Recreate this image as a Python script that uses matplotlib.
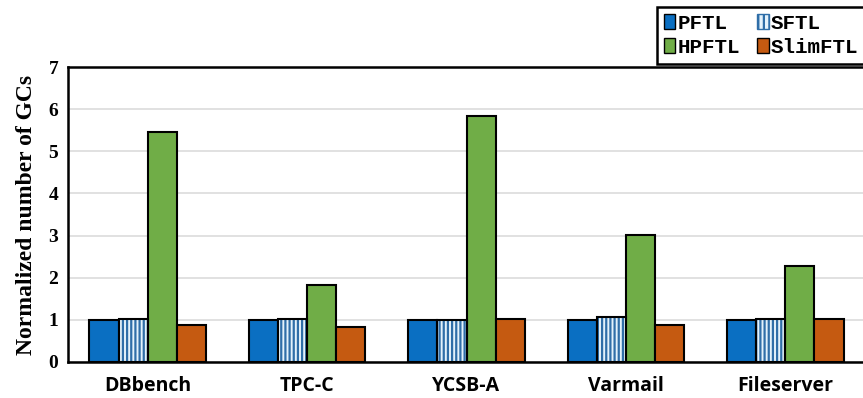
import numpy as np
import matplotlib
matplotlib.use("Agg")
import matplotlib.pyplot as plt
from matplotlib.patches import Patch

workloads = ["DBbench", "TPC-C", "YCSB-A", "Varmail", "Fileserver"]
series = ["PFTL", "SFTL", "HPFTL", "SlimFTL"]
pftl = [1.0, 1.0, 1.0, 1.0, 1.0]
sftl = [1.02, 1.02, 0.99, 1.06, 1.03]
hpftl = [5.45, 1.82, 5.83, 3.02, 2.27]
slimftl = [0.88, 0.84, 1.03, 0.87, 1.01]
yticks = [0, 1, 2, 3, 4, 5, 6, 7]

colors = {"PFTL": "#0a6fc2", "HPFTL": "#70ad47", "SlimFTL": "#c55a11"}
values = [pftl, sftl, hpftl, slimftl]

plt.rcParams["hatch.linewidth"] = 1.6

fig = plt.figure(figsize=(8.63, 3.98), dpi=100)
ax = fig.add_axes([68 / 863, 36 / 398, 797 / 863, 295 / 398])

x = np.arange(len(workloads))
w = 0.183
offsets = (np.arange(4) - 1.5) * w

for name, vals, off in zip(series, values, offsets):
    if name == "SFTL":
        ax.bar(x + off, vals, w, color="#e4f2fb", edgecolor="#2f6ea8",
               hatch="||||", linewidth=0, zorder=3)
        ax.bar(x + off, vals, w, facecolor="none", edgecolor="black",
               linewidth=1.5, zorder=4)
    else:
        ax.bar(x + off, vals, w, color=colors[name], edgecolor="black",
               linewidth=1.5, zorder=3)

ax.set_xlim(-0.5, 4.5)
ax.set_ylim(0, 7)
ax.set_yticks(yticks)
ax.yaxis.grid(True, color="#dcdcdc", linewidth=1.2, zorder=0)
ax.set_axisbelow(True)
ax.tick_params(axis="both", length=0)
ax.tick_params(axis="y", pad=7)
ax.tick_params(axis="x", pad=10)

for s in ["left", "bottom", "top"]:
    ax.spines[s].set_linewidth(1.8)
    ax.spines[s].set_color("black")
ax.spines["right"].set_visible(False)

ax.set_xticks(x)
ax.set_xticklabels(workloads, fontfamily="Open Sans", fontweight="bold",
                   fontsize=14)
for lbl in ax.get_yticklabels():
    lbl.set_fontfamily("Liberation Serif")
    lbl.set_fontweight("bold")
    lbl.set_fontsize(14)

ax.set_ylabel("Normalized number of GCs", fontfamily="Liberation Serif",
              fontweight="bold", fontsize=17, labelpad=8)

# legend entries listed column by column so rows read PFTL/SFTL, HPFTL/SlimFTL
handles = [
    Patch(facecolor=colors["PFTL"], edgecolor="black", label="PFTL"),
    Patch(facecolor=colors["HPFTL"], edgecolor="black", label="HPFTL"),
    Patch(facecolor="#e4f2fb", edgecolor="#2f6ea8", hatch="|||", label="SFTL"),
    Patch(facecolor=colors["SlimFTL"], edgecolor="black", label="SlimFTL"),
]
leg = fig.legend(handles=handles, ncol=2, loc="upper left",
                 bbox_to_anchor=(657 / 863, 1 - 7 / 398),
                 prop={"family": "Liberation Mono", "weight": "bold", "size": 15},
                 frameon=True, fancybox=False, edgecolor="black",
                 framealpha=1,
                 handlelength=0.55, handleheight=0.7, handletextpad=0.1,
                 columnspacing=0.85, borderpad=0.32, labelspacing=0.25,
                 borderaxespad=0)
leg.get_frame().set_linewidth(1.8)

fig.savefig("out.png", dpi=100)
